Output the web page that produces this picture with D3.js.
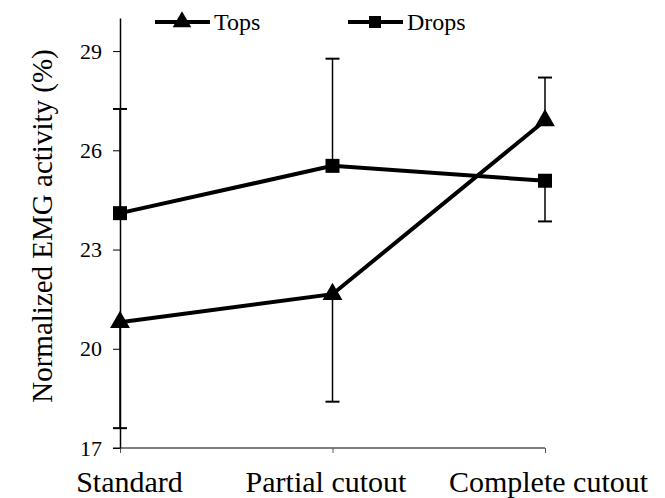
<!DOCTYPE html>
<html>
<head>
<meta charset="utf-8">
<script src="https://cdn.jsdelivr.net/npm/d3@7"></script>
<style>
  body { margin: 0; background: #fff; }
  text { font-family: "Liberation Serif", "Times New Roman", serif; fill: #000; }
</style>
</head>
<body>
<div id="chart"></div>
<script>
// categories and values
const categories = ["Standard", "Partial cutout", "Complete cutout"]
const topsValues = [20.8, 21.65, 26.9]
const dropsValues = [24.1, 25.53, 25.08]
// where each one-sided error bar ends
const topsErrEnd = [17.6, 18.4, 28.2]
const dropsErrEnd = [27.25, 28.77, 23.85]
const yTicks = [17, 20, 23, 26, 29]

const width = 665, height = 498
const serif = "'Liberation Serif', 'Times New Roman', serif"

const svg = d3.select("#chart")
  .append("svg")
  .attr("width", width)
  .attr("height", height)

const x = d3.scalePoint()
  .domain(categories)
  .range([120, 545])

const y = d3.scaleLinear()
  .domain([17, 30])
  .range([448, 18])

// x axis (grey line, ticks down)
const xAxis = svg.append("g")
  .attr("transform", `translate(0,${y(17)})`)
  .call(d3.axisBottom(x).tickSize(5).tickSizeOuter(0))
  .attr("font-family", serif)
xAxis.select(".domain").attr("stroke", "#555").attr("stroke-width", 1.5)
  .attr("d", `M113,0H${x("Complete cutout")}`)
xAxis.selectAll(".tick line").attr("stroke", "#555")
xAxis.selectAll(".tick text")
  .attr("dy", 0)
  .attr("y", 44)
  .attr("dx", (d, i) => [9, -7, 3][i])
  .style("font-size", "30px")

// y axis
const yAxis = svg.append("g")
  .attr("transform", `translate(${x("Standard")},0)`)
  .call(d3.axisLeft(y).tickValues(yTicks).tickSize(7).tickSizeOuter(0))
  .attr("font-family", serif)
yAxis.select(".domain").attr("stroke-width", 1.5)
yAxis.selectAll(".tick text")
  .attr("x", -18)
  .style("font-size", "22px")

// y axis title
svg.append("text")
  .attr("transform", `translate(42,${(42 + 410) / 2}) rotate(-90)`)
  .attr("text-anchor", "middle")
  .attr("dominant-baseline", "central")
  .style("font-size", "29px")
  .text("Normalized EMG activity (%)")

const series = [
  { name: "Tops", values: topsValues, errEnd: topsErrEnd, symbol: d3.symbolTriangle },
  { name: "Drops", values: dropsValues, errEnd: dropsErrEnd, symbol: d3.symbolSquare }
]

const line = d3.line()
  .x((d, i) => x(categories[i]))
  .y(d => y(d))

series.forEach(s => {
  const g = svg.append("g")

  // error bars
  s.values.forEach((v, i) => {
    const cx = x(categories[i])
    g.append("line")
      .attr("x1", cx).attr("x2", cx)
      .attr("y1", y(v)).attr("y2", y(s.errEnd[i]))
      .attr("stroke", "#000").attr("stroke-width", 1.5)
    g.append("line")
      .attr("x1", cx - 7).attr("x2", cx + 7)
      .attr("y1", y(s.errEnd[i])).attr("y2", y(s.errEnd[i]))
      .attr("stroke", "#000").attr("stroke-width", 2)
  })

  g.append("path")
    .datum(s.values)
    .attr("d", line)
    .attr("fill", "none")
    .attr("stroke", "#000")
    .attr("stroke-width", 4)

  g.selectAll("path.mark")
    .data(s.values)
    .join("path")
    .attr("class", "mark")
    .attr("transform", (d, i) => `translate(${x(categories[i])},${y(d)})`)
    .attr("d", d3.symbol().type(s.symbol).size(s.symbol === d3.symbolSquare ? 196 : 170))
    .attr("fill", "#000")
})

// legend
const legendItems = [
  { name: "Tops", symbol: d3.symbolTriangle, x0: 155 },
  { name: "Drops", symbol: d3.symbolSquare, x0: 348 }
]
const ly = 22
legendItems.forEach(it => {
  const lg = svg.append("g")
  lg.append("line")
    .attr("x1", it.x0).attr("x2", it.x0 + 55)
    .attr("y1", ly).attr("y2", ly)
    .attr("stroke", "#000").attr("stroke-width", 4)
  lg.append("path")
    .attr("transform", `translate(${it.x0 + 27},${ly})`)
    .attr("d", d3.symbol().type(it.symbol).size(it.symbol === d3.symbolSquare ? 144 : 150))
    .attr("fill", "#000")
  lg.append("text")
    .attr("x", it.x0 + 59)
    .attr("y", ly)
    .attr("dominant-baseline", "central")
    .style("font-size", "24px")
    .text(it.name)
})
</script>
</body>
</html>
